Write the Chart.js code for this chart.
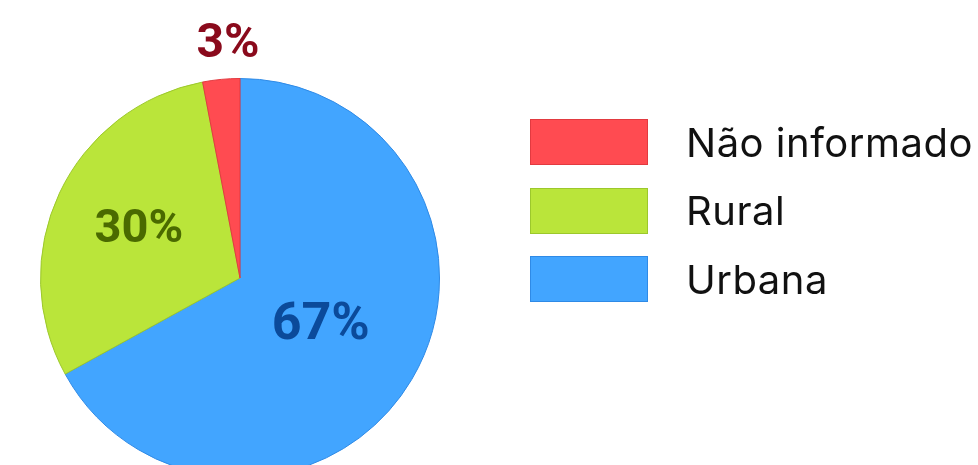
<!DOCTYPE html>
<html lang="pt">
<head>
<meta charset="utf-8">
<title>Zona</title>
<script src="https://cdn.jsdelivr.net/npm/chart.js@4"></script>
<style>
  html, body { margin: 0; padding: 0; background: #fff; overflow: hidden; }
  #wrap { position: relative; width: 978px; height: 478px; }
  #legend { position: absolute; left: 530px; top: 119px; margin: 0; padding: 0; list-style: none; }
  #legend li { display: flex; align-items: center; height: 46px; margin-bottom: 22.5px; }
  #legend .box { width: 116px; height: 44px; border: 1px solid; margin-right: 38px; }
  #legend .txt { font-family: Inter, sans-serif; font-size: 40px; letter-spacing: 0.5px; color: #111; white-space: nowrap; }
</style>
</head>
<body>
<div id="wrap">
  <canvas id="pizza"></canvas>
  <ul id="legend"></ul>
</div>
<script>
// dados (ordem do desenho, sentido horário a partir do topo)
const categorias = ['Urbana', 'Rural', 'Não informado'];
const valores = [67, 30, 3];
const rotulos = ['67%', '30%', '3%'];

const cores = ['#42A5FF', '#BAE53A', '#FF4B51'];
const bordas = ['#2F8AE6', '#9CC82C', '#E23A40'];
const coresTexto = ['#0B4A9A', '#4A6A00', '#8A0A1C'];
const distRotulo = [0.47, 0.56, 1.175];
const deslocX = [0, 0, 10];
const tamRotulo = [52, 47, 48];

// rótulos de porcentagem desenhados sobre as fatias
const rotulosPlugin = {
  id: 'rotulos',
  afterDatasetsDraw(chart) {
    const ctx = chart.ctx;
    const meta = chart.getDatasetMeta(0);
    meta.data.forEach((arc, i) => {
      const mid = (arc.startAngle + arc.endAngle) / 2;
      const r = arc.outerRadius * distRotulo[i];
      const x = arc.x + Math.cos(mid) * r + deslocX[i];
      const y = arc.y + Math.sin(mid) * r;
      ctx.save();
      ctx.font = 'bold ' + tamRotulo[i] + 'px Roboto, sans-serif';
      ctx.fillStyle = coresTexto[i];
      ctx.textAlign = 'center';
      ctx.textBaseline = 'middle';
      ctx.fillText(rotulos[i], x, y);
      ctx.restore();
    });
  }
};

const chart = new Chart(document.getElementById('pizza'), {
  type: 'pie',
  data: {
    labels: categorias,
    datasets: [{
      data: valores,
      backgroundColor: cores,
      borderColor: bordas,
      borderWidth: 1
    }]
  },
  options: {
    responsive: true,
    maintainAspectRatio: false,
    animation: false,
    layout: {
      padding: { left: 40, top: 78, right: 538, bottom: 0 }
    },
    plugins: {
      legend: { display: false },
      tooltip: { enabled: false }
    }
  },
  plugins: [rotulosPlugin]
});

// legenda em HTML, na ordem inversa (como no original)
const legenda = document.getElementById('legend');
for (let i = categorias.length - 1; i >= 0; i--) {
  const li = document.createElement('li');
  li.innerHTML = '<span class="box" style="background:' + cores[i] + ';border-color:' + bordas[i] + '"></span>' +
    '<span class="txt">' + categorias[i] + '</span>';
  legenda.appendChild(li);
}
</script>
</body>
</html>
